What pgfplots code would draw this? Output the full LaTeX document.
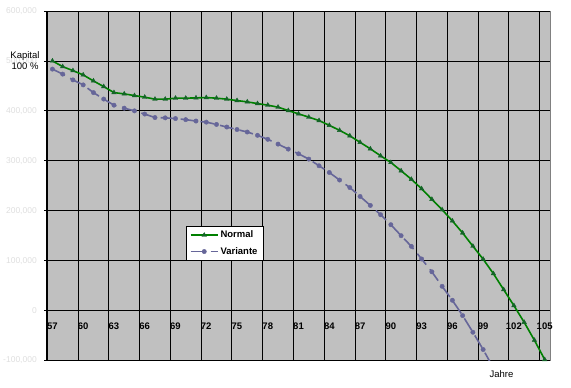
\documentclass[border=0pt]{standalone}
\usepackage{fontspec}
\setmainfont{Liberation Sans}
\usepackage{pgfplots}
\pgfplotsset{compat=1.18}
\usepackage{pgfplotstable}

\definecolor{plotgray}{RGB}{192,192,192}
\definecolor{normgreen}{RGB}{0,128,0}
\definecolor{normmark}{RGB}{20,100,40}
\definecolor{varviolet}{RGB}{102,102,153}
\definecolor{ylab}{RGB}{222,222,222}

\pgfplotstableread{
x y
57.5 500000
58.5 488600
59.5 480600
60.5 472000
61.5 460000
62.5 448600
63.5 436600
64.5 434000
65.5 430600
66.5 427400
67.5 423400
68.5 423400
69.5 425400
70.5 425400
71.5 426000
72.5 426600
73.5 425400
74.5 423400
75.5 420600
76.5 418000
77.5 414600
78.5 411400
79.5 407400
80.5 400600
81.5 394000
82.5 387400
83.5 380600
84.5 371000
85.5 361000
86.5 350000
87.5 337000
88.5 324000
89.5 310000
90.5 296600
91.5 280000
92.5 263000
93.5 244000
94.5 222800
95.5 202000
96.5 179600
97.5 155400
98.5 129000
99.5 103000
100.5 74000
101.5 42000
102.5 10000
103.5 -23400
104.5 -59400
105.5 -98000
}\normaldata

\pgfplotstableread{
x y
57.5 483600
58.5 473600
59.5 462000
60.5 452000
61.5 436600
62.5 423600
63.5 411400
64.5 405400
65.5 400000
66.5 393600
67.5 386600
68.5 386000
69.5 384600
70.5 382400
71.5 379600
72.5 377400
73.5 372800
74.5 367600
75.5 362600
76.5 357600
77.5 351000
78.5 343000
79.5 333400
80.5 323400
81.5 314000
82.5 303400
83.5 290000
84.5 276600
85.5 261400
86.5 246400
87.5 228600
88.5 210600
89.5 192000
90.5 172000
91.5 150000
92.5 128600
93.5 103400
94.5 77600
95.5 48600
96.5 20600
97.5 -10000
98.5 -43400
99.5 -78000
100.5 -115000
}\variantedata

\begin{document}
\begin{tikzpicture}
\path[use as bounding box] (0,0) rectangle (571bp,388bp);
\begin{axis}[
  at={(47.3bp,27.5bp)}, anchor=south west,
  scale only axis, width=502.5bp, height=349.5bp,
  xmin=57, xmax=106, ymin=-100000, ymax=600000,
  axis background/.style={fill=plotgray, draw=gray},
  axis x line*=middle, axis y line*=left,
  hide obscured x ticks=false,
  axis line style={black, line width=1.6bp},
  xtick={57,60,...,105}, ytick={-100000,0,...,600000},
  grid=major, major grid style={black, line width=0.8bp},
  tick style={black, line width=0.8bp}, major tick length=3bp,
  xtick align=outside, ytick align=outside,
  scaled y ticks=false,
  /pgf/number format/fixed,
  /pgf/number format/1000 sep={,},
  /pgf/number format/assume math mode=true,
  xticklabel style={font=\fontsize{9.5bp}{11bp}\selectfont\bfseries, anchor=north, xshift=5.1bp, yshift=-6bp},
  yticklabel style={font=\fontsize{8.5bp}{10bp}\selectfont, text=ylab, anchor=east, xshift=-4bp},
  legend style={at={(axis description cs:0.2753,0.3857)}, anchor=north west,
    draw=black, fill=white, line width=0.6bp,
    font=\fontsize{9.5bp}{11bp}\selectfont\bfseries, inner xsep=4bp, inner ysep=3bp, row sep=4bp},
  legend cell align=left,
  legend image code/.code={\draw[mark repeat=2,mark phase=2] plot coordinates {(0bp,0bp) (13.5bp,0bp) (27bp,0bp)};},
]
\addplot[normgreen, line width=1.6bp, mark=triangle*, mark size=2.6bp,
  mark options={solid, fill=normmark, draw=normmark, line width=0.4bp}] table[x=x,y=y] {\normaldata};
\addlegendentry{Normal}
\addplot[varviolet, line width=1.6bp, dash pattern=on 14bp off 6bp, mark=*, mark size=2.2bp,
  mark options={solid, fill=varviolet, draw=varviolet, line width=0.4bp}] table[x=x,y=y] {\variantedata};
\addlegendentry{Variante}
\end{axis}
\node[anchor=north, align=center, font=\fontsize{9.5bp}{11bp}\selectfont, inner sep=0pt] at (25bp,336.3bp) {Kapital\\100 \%};
\node[anchor=base, font=\fontsize{9.5bp}{11bp}\selectfont, inner sep=0pt] at (501.5bp,10.7bp) {Jahre};
\end{tikzpicture}
\end{document}
